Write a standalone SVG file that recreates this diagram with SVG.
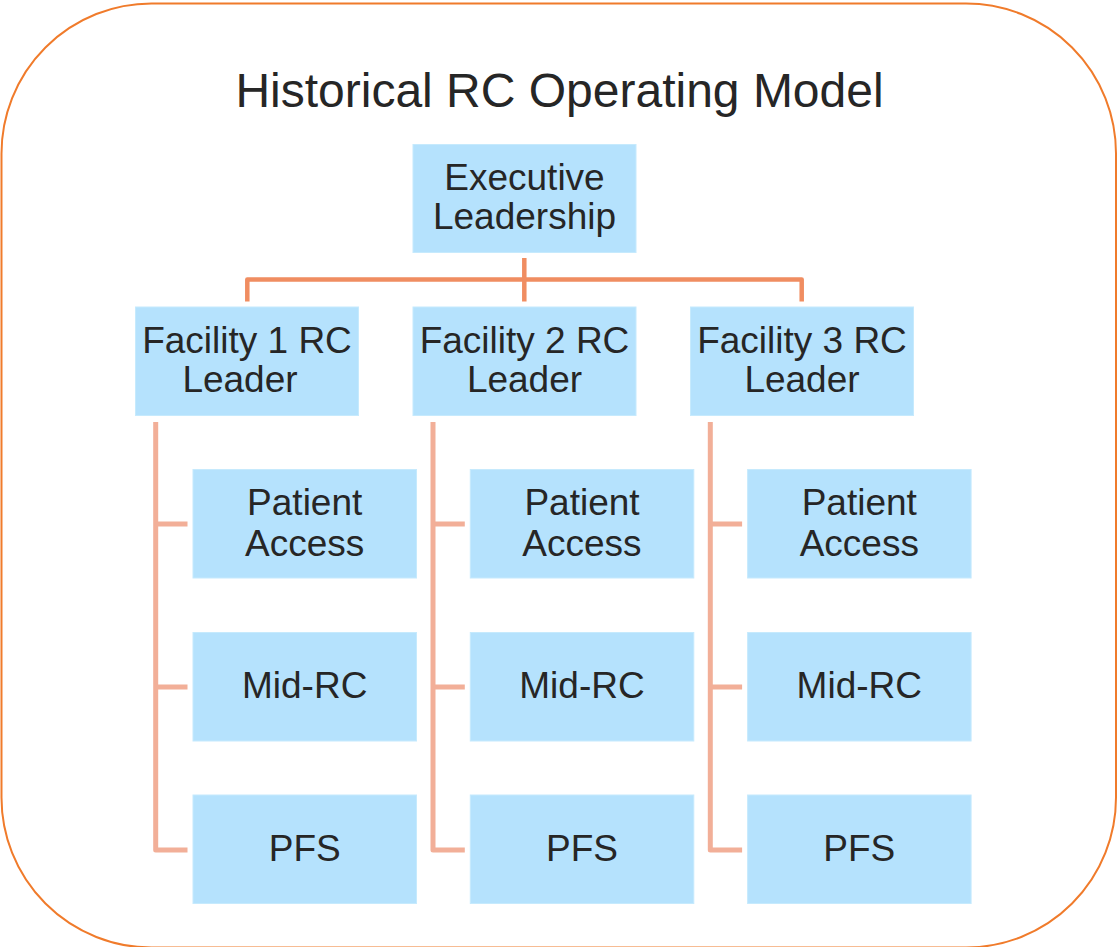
<svg xmlns="http://www.w3.org/2000/svg" width="1117" height="947" viewBox="0 0 1117 947">
<style>
.box{fill:#B5E2FD;stroke:#C6EAFD;stroke-width:1}
.t{font-family:"Liberation Sans",Arial,sans-serif;font-size:37px;fill:#262626;text-anchor:middle}
.title{font-family:"Liberation Sans",Arial,sans-serif;font-size:48px;fill:#262626;text-anchor:middle}
.c1{fill:none;stroke:#F08D61;stroke-width:4.5;stroke-linejoin:round}
.c2{fill:none;stroke:#F2AF98;stroke-width:5;stroke-linejoin:round}
</style>
<rect x="1.5" y="3.5" width="1114.5" height="944" rx="150" ry="150" fill="#FFFFFF" stroke="#F07B2B" stroke-width="2"/>
<text class="title" x="559.5" y="107">Historical RC Operating Model</text>
<g id="connectors">
<path class="c1" d="M247.3 301.5 V279.5 H801.7 V301.5"/>
<path class="c1" d="M524.3 258 V301.5"/>
<path class="c2" d="M155.7 422 V850 H187.5 M155.7 524 H187.5 M155.7 687 H187.5"/>
<path class="c2" d="M433 422 V850 H464.8 M433 524 H464.8 M433 687 H464.8"/>
<path class="c2" d="M710.3 422 V850 H742.1 M710.3 524 H742.1 M710.3 687 H742.1"/>
</g>
<g id="exec"><rect class="box" x="413" y="144.5" width="223" height="108"/><text class="t" x="524.5" y="190">Executive</text><text class="t" x="524.5" y="229">Leadership</text></g>
<g id="fac1"><rect class="box" x="135.5" y="307" width="223" height="108.5"/><text class="t" x="247" y="353">Facility 1 RC</text><text class="t" x="240" y="392">Leader</text></g>
<g id="fac2"><rect class="box" x="413" y="307" width="223" height="108.5"/><text class="t" x="524.5" y="353">Facility 2 RC</text><text class="t" x="524.5" y="392">Leader</text></g>
<g id="fac3"><rect class="box" x="690.5" y="307" width="223" height="108.5"/><text class="t" x="802" y="353">Facility 3 RC</text><text class="t" x="802" y="392">Leader</text></g>
<g id="pa1"><rect class="box" x="193" y="469.5" width="223.5" height="108.5"/><text class="t" x="304.7" y="515">Patient</text><text class="t" x="304.7" y="556">Access</text></g>
<g id="mid1"><rect class="box" x="193" y="632.5" width="223.5" height="108.5"/><text class="t" x="304.7" y="698">Mid-RC</text></g>
<g id="pfs1"><rect class="box" x="193" y="795" width="223.5" height="108.5"/><text class="t" x="304.7" y="861">PFS</text></g>
<g id="pa2"><rect class="box" x="470.3" y="469.5" width="223.5" height="108.5"/><text class="t" x="582" y="515">Patient</text><text class="t" x="582" y="556">Access</text></g>
<g id="mid2"><rect class="box" x="470.3" y="632.5" width="223.5" height="108.5"/><text class="t" x="582" y="698">Mid-RC</text></g>
<g id="pfs2"><rect class="box" x="470.3" y="795" width="223.5" height="108.5"/><text class="t" x="582" y="861">PFS</text></g>
<g id="pa3"><rect class="box" x="747.6" y="469.5" width="223.5" height="108.5"/><text class="t" x="859.3" y="515">Patient</text><text class="t" x="859.3" y="556">Access</text></g>
<g id="mid3"><rect class="box" x="747.6" y="632.5" width="223.5" height="108.5"/><text class="t" x="859.3" y="698">Mid-RC</text></g>
<g id="pfs3"><rect class="box" x="747.6" y="795" width="223.5" height="108.5"/><text class="t" x="859.3" y="861">PFS</text></g>
</svg>
